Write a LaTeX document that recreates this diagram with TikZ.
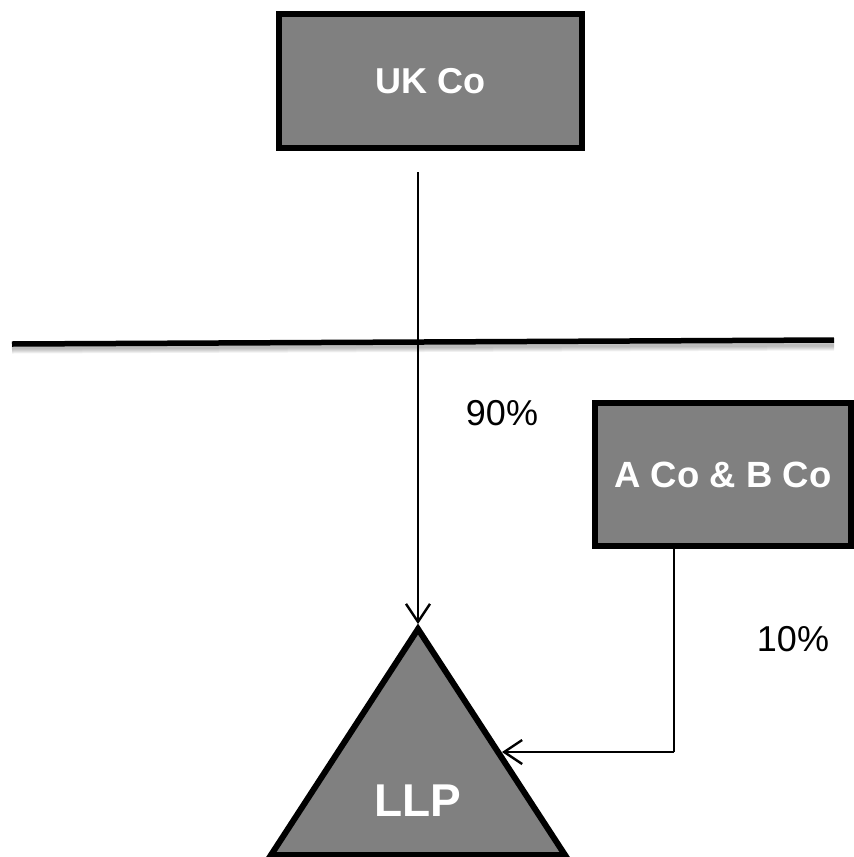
\documentclass[tikz,border=0pt]{standalone}
\usepackage{fontspec}
\setmainfont{Liberation Sans}
\usetikzlibrary{arrows.meta}
\definecolor{boxgray}{HTML}{808080}
\tikzset{
  entity/.style={draw=black, line width=6pt, fill=boxgray, text=white,
    font=\fontsize{36}{40}\selectfont\bfseries, inner sep=0pt, line join=miter},
  link/.style={line width=2.4pt, -{Straight Barb[length=18pt,width=24pt,line width=2.4pt]}},
  share/.style={font=\fontsize{36}{40}\selectfont, inner sep=0pt},
  divider/.style={line width=5.5pt, black},
  shade/.style={line width=7pt, black, opacity=0.06}
}
\begin{document}
\begin{tikzpicture}[x=1pt,y=-1pt]
\useasboundingbox (0,0) rectangle (854,857);
\clip (0,0) rectangle (854,857);

% jurisdiction divider with a soft drop shadow
\foreach \d in {3,4,5,6,7}{
  \draw[shade] (12,343+\d) -- (834,340+\d);
}
\coordinate (divL) at (12,344);
\coordinate (divR) at (834,340);
\draw[divider] (divL) -- (divR);

% parent companies
\node[entity, minimum width=303pt, minimum height=134pt] (ukco) at (430.5,81) {UK Co};
\node[entity, minimum width=256pt, minimum height=143pt, font=\fontsize{36.5}{40}\selectfont\bfseries]
  (abco) at (723,474.5) {A Co \& B Co};

% the LLP
\coordinate (apex) at (418,629);
\coordinate (baseL) at (271,855);
\coordinate (baseR) at (565,855);
\filldraw[fill=boxgray, draw=black, line width=6pt, line join=miter]
  (apex) -- (baseR) -- (baseL) -- cycle;
\node[text=white, font=\fontsize{46}{50}\selectfont\bfseries, inner sep=0pt] (llp) at (418,801) {LLP};

% ownership links
\coordinate (ukfoot) at (418,172);
\coordinate (apextip) at (418,624);
\draw[link] (ukfoot) -- (apextip);

\coordinate (abturn) at (674,752);
\coordinate (sidetip) at (502,752);
\draw[line width=2.4pt] (abco.south -| abturn) -- (abturn);
\draw[link] (abturn) -- (sidetip);

% holding percentages
\node[share] (p90) at (502,413) {90\%};
\node[share] (p10) at (793,639) {10\%};
\end{tikzpicture}
\end{document}
